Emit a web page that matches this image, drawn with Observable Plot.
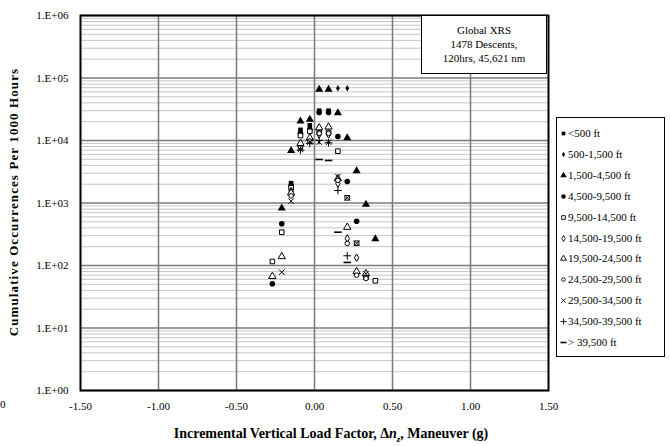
<!DOCTYPE html>
<html><head><meta charset="utf-8">
<script src="https://cdn.jsdelivr.net/npm/d3@7"></script>
<script src="https://cdn.jsdelivr.net/npm/@observablehq/plot@0.6"></script>
<style>
body{margin:0;background:#fff;}
#wrap{position:relative;width:670px;height:446px;overflow:hidden;font-family:"Liberation Serif","Times New Roman",serif;color:#000;}
#wrap > svg{display:block;}
.ov{position:absolute;white-space:nowrap;}
.ov svg{display:inline-block;vertical-align:top;}
</style></head><body><div id="wrap"></div>
<script>
// ---- data ----
const bins = [-0.27, -0.21, -0.15, -0.09, -0.03, 0.03, 0.09, 0.15, 0.21, 0.27, 0.33, 0.39];
const seriesNames = ["<500 ft", "500-1,500 ft", "1,500-4,500 ft", "4,500-9,500 ft", "9,500-14,500 ft",
  "14,500-19,500 ft", "19,500-24,500 ft", "24,500-29,500 ft", "29,500-34,500 ft", "34,500-39,500 ft", "> 39,500 ft"];
const lt500       = [null, null, 2075, 14800, 17500, 30000, 30000, null, null, null, null, null];
const s500_1500   = [null, null, null, 13500, 16000, null, null, 68700, 68700, null, null, null];
const s1500_4500  = [null, 826, 6900, 20400, 21700, 65500, 65500, 27700, 11000, 3250, 946, 267];
const s4500_9500  = [51, 465, 1900, 13000, 15000, 28000, 28000, 11600, 2210, 511, null, null];
const s9500_14500 = [116, 341, 1750, 12000, 14000, 13500, 13500, 6740, 1210, 227, 65, 57];
const s14500_19500= [null, null, 1550, 8000, 10000, 12500, 12500, 2060, 270, 133, null, null];
const s19500_24500= [67, 139, 1450, 9000, 11000, 16000, 16500, 2450, 410, 80, 74, null];
const s24500_29500= [null, null, 1300, 7600, 9800, 13000, 13000, 2300, 225, 70, 62, null];
const s29500_34500= [null, 78, 1070, 7200, 9400, 9400, 9400, 2650, 1210, 227, 74, null];
const s34500_39500= [null, null, null, 7000, 9000, 10000, 9200, 1585, 143, null, null, null];
const gt39500     = [null, null, null, null, null, 4970, 4790, 341, 112, null, null, null];
const seriesValues = [lt500, s500_1500, s1500_4500, s4500_9500, s9500_14500, s14500_19500,
  s19500_24500, s24500_29500, s29500_34500, s34500_39500, gt39500];
const xTicks = [-1.5, -1.0, -0.5, 0, 0.5, 1.0, 1.5];
const yTicks = [1, 10, 100, 1000, 10000, 100000, 1000000];
const infoLines = ["Global XRS", "1478 Descents,", "120hrs, 45,621 nm"];

// ---- symbols ----
const dash = {draw(ctx, size){ const w = Math.sqrt(size / Math.PI) * 1.25; ctx.rect(-w, -0.8, 2 * w, 1.6); }};
const styles = [
  {symbol: d3.symbolSquare, fill: "black", r: 2.6},
  {symbol: d3.symbolDiamond, fill: "black", r: 2.0},
  {symbol: d3.symbolTriangle, fill: "black", r: 3.0},
  {symbol: d3.symbolCircle, fill: "black", r: 2.8},
  {symbol: d3.symbolSquare, fill: "white", stroke: "black", r: 2.6},
  {symbol: d3.symbolDiamond, fill: "white", stroke: "black", r: 2.3},
  {symbol: d3.symbolTriangle, fill: "white", stroke: "black", r: 2.7},
  {symbol: d3.symbolCircle, fill: "white", stroke: "black", r: 2.3},
  {symbol: d3.symbolTimes, fill: "none", stroke: "black", r: 2.6},
  {symbol: d3.symbolPlus, fill: "none", stroke: "black", r: 2.6},
  {symbol: dash, fill: "black", r: 3.0}
];

const rows = [];
seriesValues.forEach((vals, si) => vals.forEach((v, bi) => { if (v != null) rows.push({s: si, x: bins[bi], v}); }));

const yMinor = yTicks.slice(0, -1).flatMap(d => [2,3,4,5,6,7,8,9].map(k => k * d));
const xGrid = xTicks.slice(1, -1);

const dotMarks = styles.map((st, si) => Plot.dot(rows.filter(r => r.s === si), {
  x: "x", y: "v", symbol: () => st.symbol, r: st.r,
  fill: st.fill, stroke: st.stroke || "none", strokeWidth: 1
}));

const chart = Plot.plot({
  width: 670, height: 446,
  marginLeft: 80, marginRight: 122, marginTop: 15, marginBottom: 56,
  style: {fontFamily: "Liberation Serif, Times New Roman, serif", fontSize: "11px", color: "black", background: "white"},
  x: {domain: [-1.5, 1.5], ticks: xTicks, tickFormat: d => d.toFixed(2), tickSize: 0, tickPadding: 12, label: null},
  y: {type: "log", domain: [1, 1e6], ticks: yTicks,
      tickFormat: d => "1.E+" + String(Math.round(Math.log10(d))).padStart(2, "0"),
      tickSize: 0, tickPadding: 12, label: null},
  symbol: {type: "identity"},
  marks: [
    Plot.ruleY(yMinor, {stroke: "#c4c4c4", strokeWidth: 1}),
    Plot.ruleY(yTicks, {stroke: "#7a7a7a", strokeWidth: 1.5}),
    Plot.ruleX(xGrid, {stroke: "#7a7a7a", strokeWidth: 1.5}),
    ...dotMarks,
    Plot.frame({stroke: "black", strokeWidth: 2})
  ]
});
const wrap = document.getElementById("wrap");
wrap.appendChild(chart);

function addDiv(html, css){ const d = document.createElement("div"); d.className = "ov"; d.innerHTML = html; Object.assign(d.style, css); wrap.appendChild(d); return d; }

// y title
addDiv("Cumulative Occurrences Per 1000 Hours", {left: (14 - 170) + "px", top: (202 - 9) + "px", width: "340px", height: "18px",
  lineHeight: "18px", textAlign: "center", fontWeight: "bold", fontSize: "13px", letterSpacing: "1.1px", transform: "rotate(-90deg)"});
// x title
addDiv("Incremental Vertical Load Factor, &Delta;<i>n</i><sub style='font-size:9px'><i>z</i></sub>, Maneuver (g)",
  {left: "0px", top: "425px", width: "662px", textAlign: "center", fontWeight: "bold", fontSize: "14px", lineHeight: "18px"});
// stray small label at the lower left edge
addDiv("0", {left: "0px", top: "398px", fontSize: "11px"});

// info box
addDiv(infoLines.join("<br>"), {left: "421px", top: "15px", width: "126px", height: "59px", boxSizing: "border-box",
  border: "1.5px solid black", background: "white", textAlign: "center", fontSize: "11px", lineHeight: "14px", paddingTop: "7px"});

// legend
const leg = addDiv("", {left: "556px", top: "117px", width: "109px", height: "240px", boxSizing: "border-box",
  border: "1px solid black", background: "white"});
seriesNames.forEach((name, i) => {
  const st = styles[i];
  const rr = st.r * 0.8;
  const size = Math.PI * rr * rr;
  const path = d3.symbol(st.symbol, size)();
  const row = document.createElement("div");
  Object.assign(row.style, {position: "absolute", left: "2px", top: (8 + i * 20.9) + "px", height: "14px", fontSize: "11px", lineHeight: "14px", whiteSpace: "nowrap"});
  row.innerHTML = `<svg width="9" height="14"><path d="${path}" transform="translate(4.5,7.5)" fill="${st.fill}" stroke="${st.stroke || 'none'}" stroke-width="0.9"/></svg>${name.replace("> ", "&gt;&nbsp;")}`;
  leg.appendChild(row);
});
</script></body></html>
